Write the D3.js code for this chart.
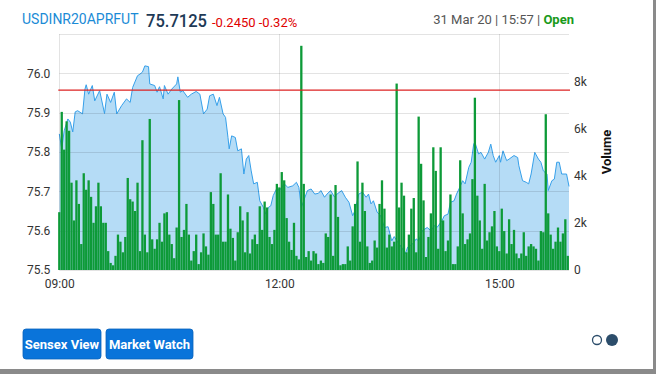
<!DOCTYPE html>
<html>
<head>
<meta charset="utf-8">
<script src="https://cdn.jsdelivr.net/npm/d3@7"></script>
<style>
  body { margin: 0; background: #fff; font-family: Roboto, "Noto Sans", sans-serif; }
  svg { display: block; }
</style>
</head>
<body>
<script>
// header texts
const symbol = "USDINR20APRFUT";
const lastPrice = "75.7125";
const change = "-0.2450 -0.32%";
const stamp = "31 Mar 20 | 15:57 | ";
const status = "Open";
const prevClose = 75.9575;

// price samples: minutes after 09:00 and value
const priceMinutes = [0,2,4,7,9,11,13,15,19,21,
  22,24,27,29,33,37,39,42,45,47,
  51,55,58,60,64,66,68,70,73,74,
  78,80,82,85,86,89,92,96,97,99,
  101,105,108,112,115,118,121,123,126,129,
  131,134,136,138,139,141,144,146,149,151,
  153,155,157,159,162,164,167,169,171,173,
  175,178,180,184,187,191,194,196,198,201,
  203,206,209,212,214,217,219,222,225,228,
  231,234,237,240,242,245,248,251,253,255,
  257,260,263,266,269,272,274,277,280,283,
  285,289,292,294,297,301,304,307,309,313,
  315,318,320,323,325,327,330,332,335,337,
  339,340,343,345,348,351,353,355,357,360,
  361,363,366,368,372,375,376,379,382,384,
  386,389,392,394,396,399,400,403,405,407,
  409,411,415,417];
const priceValues = [75.846,75.808,75.854,75.884,75.876,75.851,75.902,75.905,75.897,75.960,
  75.971,75.947,75.969,75.930,75.956,75.898,75.947,75.926,75.952,75.897,
  75.918,75.935,75.926,75.964,75.994,75.998,76.003,76.019,76.017,75.973,
  75.969,75.952,75.966,75.935,75.969,75.947,75.960,75.973,75.991,75.952,
  75.956,75.939,75.947,75.954,75.947,75.897,75.909,75.943,75.947,75.918,
  75.939,75.897,75.888,75.837,75.808,75.841,75.837,75.803,75.808,75.744,
  75.782,75.791,75.752,75.719,75.723,75.676,75.659,75.642,75.659,75.663,
  75.689,75.708,75.702,75.719,75.710,75.714,75.723,75.710,75.659,75.685,
  75.702,75.706,75.693,75.695,75.702,75.685,75.693,75.702,75.686,75.695,
  75.702,75.685,75.672,75.638,75.651,75.693,75.698,75.685,75.693,75.668,
  75.676,75.647,75.638,75.608,75.610,75.574,75.585,75.570,75.558,75.541,
  75.558,75.566,75.579,75.574,75.600,75.608,75.600,75.613,75.608,75.625,
  75.638,75.642,75.672,75.676,75.693,75.706,75.727,75.719,75.761,75.774,
  75.820,75.825,75.795,75.799,75.782,75.799,75.820,75.791,75.774,75.791,
  75.774,75.803,75.778,75.782,75.791,75.786,75.765,75.727,75.723,75.719,
  75.744,75.799,75.782,75.774,75.752,75.744,75.702,75.727,75.731,75.774,
  75.774,75.744,75.744,75.7125];

// volume in thousands, one bar every 2 minutes from 09:00
const volumeStep = 2;
const volumeValues = [2.45,6.7,5.1,6.3,5.9,3.7,2.1,3.8,2.8,1.1,
  4.1,3.4,3.8,3.1,2.0,2.7,3.7,2.7,2.0,2.0,
  0.8,0.3,0.2,0.6,1.5,1.2,0.75,1.4,3.9,3.0,
  2.9,2.5,3.7,0.8,5.5,1.5,0.75,6.4,1.3,0.9,
  1.3,2.0,1.2,2.4,2.45,1.5,1.1,0.5,1.8,7.2,
  1.4,1.7,2.8,1.5,0.4,0.8,1.5,0.25,0.75,1.55,
  1.0,0.65,3.3,2.8,1.5,1.5,4.1,1.2,1.2,3.2,
  1.75,1.36,0.4,1.6,2.7,2.1,0.75,2.45,0.7,1.3,
  1.5,1.1,2.7,1.7,2.9,2.65,1.4,1.1,1.7,3.65,
  3.5,4.15,3.8,2.2,1.2,0.85,2.0,0.6,0.45,9.5,
  3.65,0.55,0.8,0.4,0.8,0.7,0.25,0.4,0.3,1.55,
  1.4,3.2,0.6,3.6,2.25,0.2,0.25,0.25,1.0,0.4,
  1.85,2.8,4.6,1.2,3.7,2.5,1.0,0.3,0.4,1.25,
  0.95,2.8,3.8,2.6,0.95,1.5,1.0,1.2,7.9,2.65,
  3.7,3.15,0.75,1.5,2.6,3.05,0.75,6.5,4.5,2.95,
  0.55,1.4,2.4,5.2,4.2,0.9,5.2,2.1,0.8,1.25,
  3.2,0.25,0.25,1.0,4.65,2.4,1.1,1.3,1.55,3.85,
  7.3,3.15,2.1,0.9,3.65,1.25,1.6,1.85,2.5,1.0,
  0.8,2.6,1.65,0.7,2.15,1.1,1.7,0.7,0.5,0.7,
  1.6,0.6,1.0,1.1,1.0,0.9,0.4,1.65,1.6,6.6,
  2.4,1.5,0.9,1.2,1.8,1.2,1.55,2.15,0.6];

const priceTicks = [75.5, 75.6, 75.7, 75.8, 75.9, 76.0];
const volumeTicks = [0, 2, 4, 6, 8];
const buttons = ["Sensex View", "Market Watch"];

const width = 656, height = 374;
const plot = {left: 59.3, right: 569, top: 34, bottom: 270};
const day = new Date(2020, 2, 31, 9, 0);
const toDate = (m) => new Date(day.getTime() + m * 60000);

const priceData = priceMinutes.map((m, i) => ({t: toDate(m), v: priceValues[i]}));
const volumeData = volumeValues.map((v, i) => ({t: toDate(i * volumeStep), v: v}));

const svg = d3.select("body").append("svg")
  .attr("width", width)
  .attr("height", height);

// page frame edges
svg.append("rect").attr("x", 653).attr("y", 0).attr("width", 3).attr("height", height).attr("fill", "#8a8a8a");
svg.append("rect").attr("x", 0).attr("y", 369).attr("width", width).attr("height", 5).attr("fill", "#8a8a8a");

const xScale = d3.scaleTime()
  .domain([day, toDate(417)])
  .range([plot.left, plot.right]);
const yScale = d3.scaleLinear()
  .domain([75.5, 76.1])
  .range([plot.bottom, plot.top]);
const vScale = d3.scaleLinear()
  .domain([0, 10])
  .range([plot.bottom, plot.top]);

// price area + line
const area = d3.area()
  .x((d) => xScale(d.t))
  .y0(plot.bottom)
  .y1((d) => yScale(d.v));
const line = d3.line()
  .x((d) => xScale(d.t))
  .y((d) => yScale(d.v));

svg.append("path")
  .datum(priceData)
  .attr("d", area)
  .attr("fill", "#b5dcf6");
svg.append("path")
  .datum(priceData)
  .attr("d", line)
  .attr("fill", "none")
  .attr("stroke", "#36a0ea")
  .attr("stroke-width", 1);

// grid
const grid = svg.append("g").attr("class", "grid");
grid.selectAll("line.h")
  .data(priceTicks.concat([76.1]))
  .enter().append("line")
  .attr("x1", plot.left).attr("x2", plot.right)
  .attr("y1", (d) => Math.round(yScale(d)) + 0.5)
  .attr("y2", (d) => Math.round(yScale(d)) + 0.5)
  .attr("stroke", "rgba(0,0,0,0.11)");
const hourTicks = xScale.ticks(d3.timeHour.every(3));
grid.selectAll("line.v")
  .data(hourTicks)
  .enter().append("line")
  .attr("x1", (d) => Math.round(xScale(d)) + 0.5)
  .attr("x2", (d) => Math.round(xScale(d)) + 0.5)
  .attr("y1", plot.top).attr("y2", plot.bottom)
  .attr("stroke", "rgba(0,0,0,0.11)");

// volume bars
svg.append("g")
  .selectAll("rect")
  .data(volumeData)
  .enter().append("rect")
  .attr("x", (d) => xScale(d.t) - 1.15)
  .attr("y", (d) => vScale(d.v))
  .attr("width", 2.3)
  .attr("height", (d) => plot.bottom - vScale(d.v))
  .attr("fill", "#0d9a38");

// previous close
svg.append("line")
  .attr("x1", plot.left - 1).attr("x2", plot.right + 1)
  .attr("y1", yScale(prevClose)).attr("y2", yScale(prevClose))
  .attr("stroke", "#dd2222")
  .attr("stroke-width", 1.2);

// axes
const leftAxis = d3.axisLeft(yScale)
  .tickValues(priceTicks)
  .tickSize(0)
  .tickPadding(9)
  .tickFormat(d3.format(".1f"));
const gLeft = svg.append("g")
  .attr("transform", `translate(${plot.left},0)`)
  .call(leftAxis);

const rightAxis = d3.axisRight(vScale)
  .tickValues(volumeTicks)
  .tickSize(0)
  .tickPadding(5)
  .tickFormat((d) => d === 0 ? "0" : d + "k");
const gRight = svg.append("g")
  .attr("transform", `translate(${plot.right},0)`)
  .call(rightAxis);

const bottomAxis = d3.axisBottom(xScale)
  .tickValues(hourTicks)
  .tickSize(0)
  .tickPadding(9)
  .tickFormat(d3.timeFormat("%H:%M"));
const gBottom = svg.append("g")
  .attr("transform", `translate(0,${plot.bottom})`)
  .call(bottomAxis);

[gLeft, gRight, gBottom].forEach((g) => {
  g.select(".domain").remove();
  g.selectAll("text")
    .attr("font-family", "Roboto, sans-serif")
    .attr("font-size", 12)
    .attr("fill", "#333");
});

svg.append("text")
  .attr("transform", "translate(611,152) rotate(-90)")
  .attr("text-anchor", "middle")
  .attr("font-family", "Roboto, sans-serif")
  .attr("font-size", 13)
  .attr("font-weight", "bold")
  .attr("fill", "#111")
  .text("Volume");

// header
const header = svg.append("g").attr("font-family", "Roboto, sans-serif");
header.append("text")
  .attr("x", 22).attr("y", 24)
  .attr("font-size", 14)
  .attr("fill", "#1b8bd6")
  .text(symbol);
header.append("text")
  .attr("x", 146).attr("y", 27)
  .attr("font-size", 19)
  .attr("font-weight", 500)
  .attr("fill", "#1e3a56")
  .attr("textLength", 61)
  .attr("lengthAdjust", "spacingAndGlyphs")
  .text(lastPrice);
header.append("text")
  .attr("x", 212).attr("y", 27)
  .attr("font-size", 13)
  .attr("fill", "#e00000")
  .text(change);
const stampText = header.append("text")
  .attr("x", 574).attr("y", 24)
  .attr("text-anchor", "end")
  .attr("font-size", 13);
stampText.append("tspan").attr("fill", "#555").text(stamp);
stampText.append("tspan").attr("fill", "#1a9a1a").attr("font-weight", "bold").text(status);

// buttons
const btnX = [23, 106], btnW = [78, 87];
const btn = svg.append("g").selectAll("g")
  .data(buttons)
  .enter().append("g")
  .attr("transform", (d, i) => `translate(${btnX[i]},329)`);
btn.append("rect")
  .attr("width", (d, i) => btnW[i])
  .attr("height", 30)
  .attr("rx", 3)
  .attr("fill", "#0a74da")
  .attr("stroke", "#0862bb")
  .attr("stroke-width", 0.8);
btn.append("text")
  .attr("x", (d, i) => btnW[i] / 2)
  .attr("y", 20)
  .attr("text-anchor", "middle")
  .attr("font-family", "Roboto, sans-serif")
  .attr("font-size", 13)
  .attr("font-weight", "bold")
  .attr("fill", "#fff")
  .text((d) => d);

// pager dots
svg.append("circle").attr("cx", 597).attr("cy", 340).attr("r", 4.5)
  .attr("fill", "#fff").attr("stroke", "#2c4d6b").attr("stroke-width", 1.3);
svg.append("circle").attr("cx", 612).attr("cy", 340).attr("r", 6)
  .attr("fill", "#2c4d6b");
</script>
</body>
</html>
